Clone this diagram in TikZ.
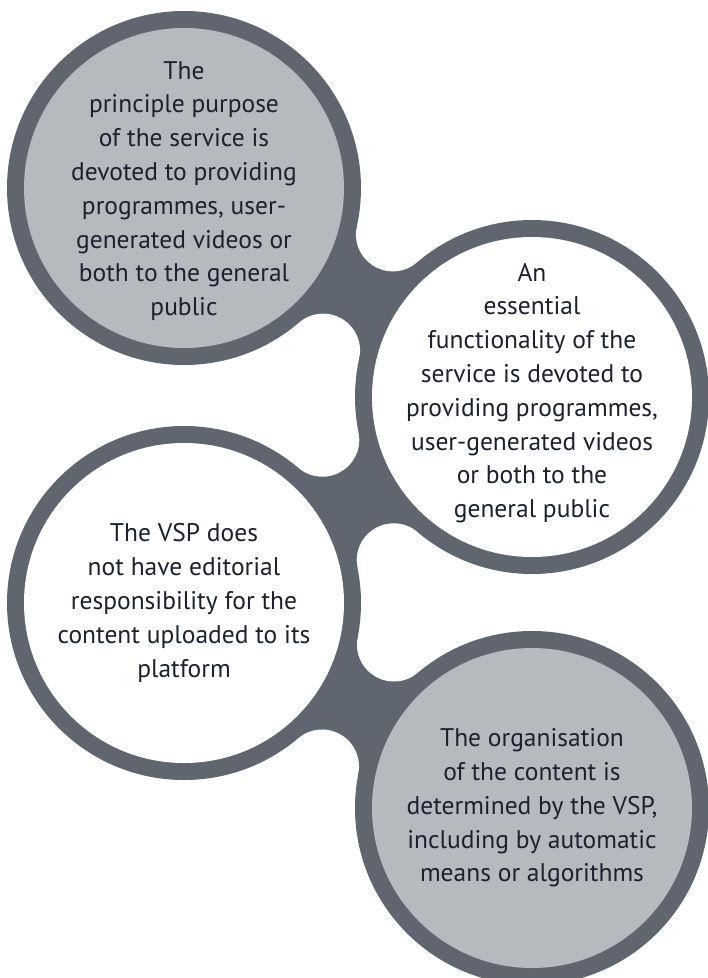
\documentclass[tikz,border=0pt]{standalone}
\usepackage{fontspec}
\setmainfont{PT Sans}
\definecolor{ringc}{RGB}{95,102,112}
\definecolor{fillc}{RGB}{181,186,190}
\definecolor{txtc}{RGB}{27,33,48}
\newcommand\mkbridge[5]{%
  \pgfmathsetmacro\bdx{#3-#1}%
  \pgfmathsetmacro\bdy{#4-#2}%
  \pgfmathsetmacro\bdd{sqrt(\bdx*\bdx+\bdy*\bdy)}%
  \pgfmathsetmacro\bhh{sqrt((17.7+3.7)^2-(\bdd/2)^2)}%
  \pgfmathsetmacro\bmx{(#1+#3)/2}%
  \pgfmathsetmacro\bmy{(#2+#4)/2}%
  \pgfmathsetmacro\bpx{-\bdy/\bdd*\bhh}%
  \pgfmathsetmacro\bpy{\bdx/\bdd*\bhh}%
  \coordinate (#5a) at (\bmx+\bpx,\bmy+\bpy);
  \coordinate (#5b) at (\bmx-\bpx,\bmy-\bpy);
}
\begin{document}
\begin{tikzpicture}[x=10pt,y=-10pt,
  lbl/.style={align=center, text=txtc, font=\fontsize{25.5}{33.8}\selectfont, inner sep=0pt},
  ring/.style={fill=ringc},
  fillet/.style={fill=white}]
\useasboundingbox (0,0) rectangle (70.8,97.8);
\coordinate (c1) at (18.4,18.8);
\coordinate (c2) at (53.2,39.7);
\coordinate (c3) at (18.4,60.3);
\coordinate (c4) at (53.2,80.8);
\mkbridge{18.4}{18.8}{53.2}{39.7}{f1}
\mkbridge{53.2}{39.7}{18.4}{60.3}{f2}
\mkbridge{18.4}{60.3}{53.2}{80.8}{f3}
% bridges
\fill[ring] (c1) -- (f1a) -- (c2) -- (f1b) -- cycle;
\fill[ring] (c2) -- (f2a) -- (c3) -- (f2b) -- cycle;
\fill[ring] (c3) -- (f3a) -- (c4) -- (f3b) -- cycle;
\foreach \f in {f1a,f1b,f2a,f2b,f3a,f3b}{\fill[fillet] (\f) circle[radius=37pt];}
% circles
\foreach \c in {c1,c2,c3,c4}{\fill[ring] (\c) circle[radius=177pt];}
\fill[fillc] (c1) circle[radius=160pt];
\fill[white] (c2) circle[radius=160pt];
\fill[white] (c3) circle[radius=160pt];
\fill[fillc] (c4) circle[radius=160pt];
% texts
\node[lbl] (t1) at ([yshift=-3pt]c1) {The\\principle purpose\\of the service is\\devoted to providing\\programmes, user-\\generated videos or\\both to the general\\public};
\node[lbl] (t2) at ([yshift=4pt]c2) {An\\essential\\functionality of the\\service is devoted to\\providing programmes,\\user-generated videos\\or both to the\\general public};
\node[lbl] (t3) at (c3) {The VSP does\\not have editorial\\responsibility for the\\content uploaded to its\\platform};
\node[lbl] (t4) at (c4) {The organisation\\of the content is\\determined by the VSP,\\including by automatic\\means or algorithms};
\end{tikzpicture}
\end{document}
